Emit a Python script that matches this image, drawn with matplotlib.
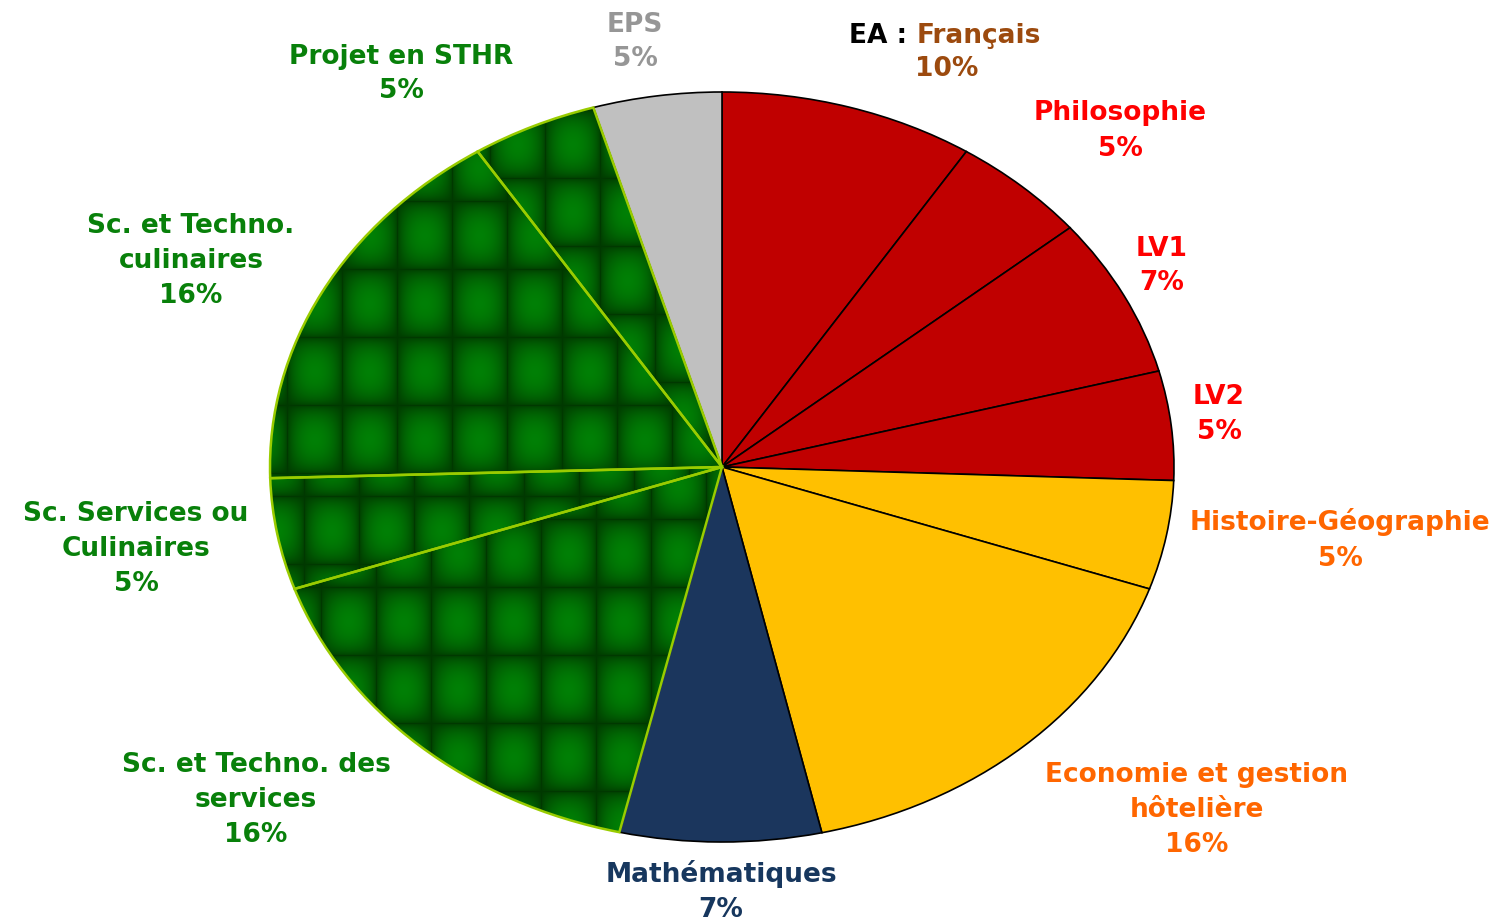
import numpy as np
import matplotlib
matplotlib.use('Agg')
import matplotlib.pyplot as plt

# parts of the week, clockwise from the top
subjects = ['EA : Français', 'Philosophie', 'LV1', 'LV2', 'Histoire-Géographie',
            'Economie et gestion\nhôtelière', 'Mathématiques',
            'Sc. et Techno. des\nservices', 'Sc. Services ou\nCulinaires',
            'Sc. et Techno.\nculinaires', 'Projet en STHR', 'EPS']
shares = [9.1, 4.9, 6.9, 4.7, 4.7, 16.2, 7.2, 16.1, 4.8, 16.4, 4.5, 4.6]
pct_labels = ['10%', '5%', '7%', '5%', '5%', '16%', '7%', '16%', '5%', '16%', '5%', '5%']

slice_colors = ['#C00000', '#C00000', '#C00000', '#C00000', '#FFC000', '#FFC000',
                '#1B365D', 'tex', 'tex', 'tex', 'tex', '#C0C0C0']
label_colors = ['#9C4A0E', '#FF0000', '#FF0000', '#FF0000', '#FF6600', '#FF6600',
                '#17375E', '#08800A', '#08800A', '#08800A', '#08800A', '#969696']

# label centres in pixels of the 1503x921 image
label_px = [(947, 52), (1120, 131), (1162, 266), (1219, 414), (1340, 540),
            (1197, 810), (721, 891), (256, 800), (136, 549), (191, 261),
            (401, 74), (635, 42)]

W, H = 1503, 921
cx, cy, rx, ry = 722, 467, 452, 375


def to_data(px, py):
    return (px - cx) / rx, (cy - py) / ry


fig = plt.figure(figsize=(W / 100, H / 100), dpi=100)
ax = fig.add_axes([0, 0, 1, 1])

fill = [c if c != 'tex' else 'none' for c in slice_colors]
wedges, _ = ax.pie(shares, colors=fill, startangle=90, counterclock=False,
                   wedgeprops=dict(edgecolor='black', linewidth=1.2))

x0, y1 = to_data(0, 0)
x1, y0 = to_data(W, H)
ax.set_aspect('auto')
ax.axis('off')

# green tiled texture (Excel-like fill)
yy, xx = np.mgrid[0:H, 0:W]
dark = np.array([0.0, 0.22, 0.0])
light = np.array([0.0, 0.50, 0.02])
for i, w in enumerate(wedges):
    if slice_colors[i] != 'tex':
        continue
    u = ((xx + 17 * i) / 55.0) % 1.0
    v = ((yy + 23 * i) / 68.0) % 1.0
    b = (np.sin(np.pi * u) * np.sin(np.pi * v)) ** 0.55
    img = dark + b[..., None] * (light - dark)
    im = ax.imshow(img, extent=(x0, x1, y0, y1), origin='upper',
                   aspect='auto', zorder=1, interpolation='bilinear')
    im.set_clip_path(w)
    w.set_edgecolor('#99CC00')
    w.set_linewidth(1.8)
    w.set_zorder(2)

ax.set_xlim(x0, x1)
ax.set_ylim(y0, y1)

fs = 19
for i, (px, py) in enumerate(label_px):
    x, y = to_data(px, py)
    name = subjects[i]
    if name.startswith('EA :'):
        xa, ya = to_data(907, 36)
        ax.text(xa, ya, 'EA :', ha='right', va='center', fontsize=fs,
                fontweight='bold', color='black')
        xb, yb = to_data(917, 36)
        ax.text(xb, yb, 'Français', ha='left', va='center', fontsize=fs,
                fontweight='bold', color=label_colors[i])
        xc, yc = to_data(947, 69)
        ax.text(xc, yc, pct_labels[i], ha='center', va='center', fontsize=fs,
                fontweight='bold', color=label_colors[i])
        continue
    ax.text(x, y, name + '\n' + pct_labels[i], ha='center', va='center',
            multialignment='center', fontsize=fs, fontweight='bold',
            color=label_colors[i], linespacing=1.45)

fig.savefig('out.png', dpi=100, facecolor='white')
